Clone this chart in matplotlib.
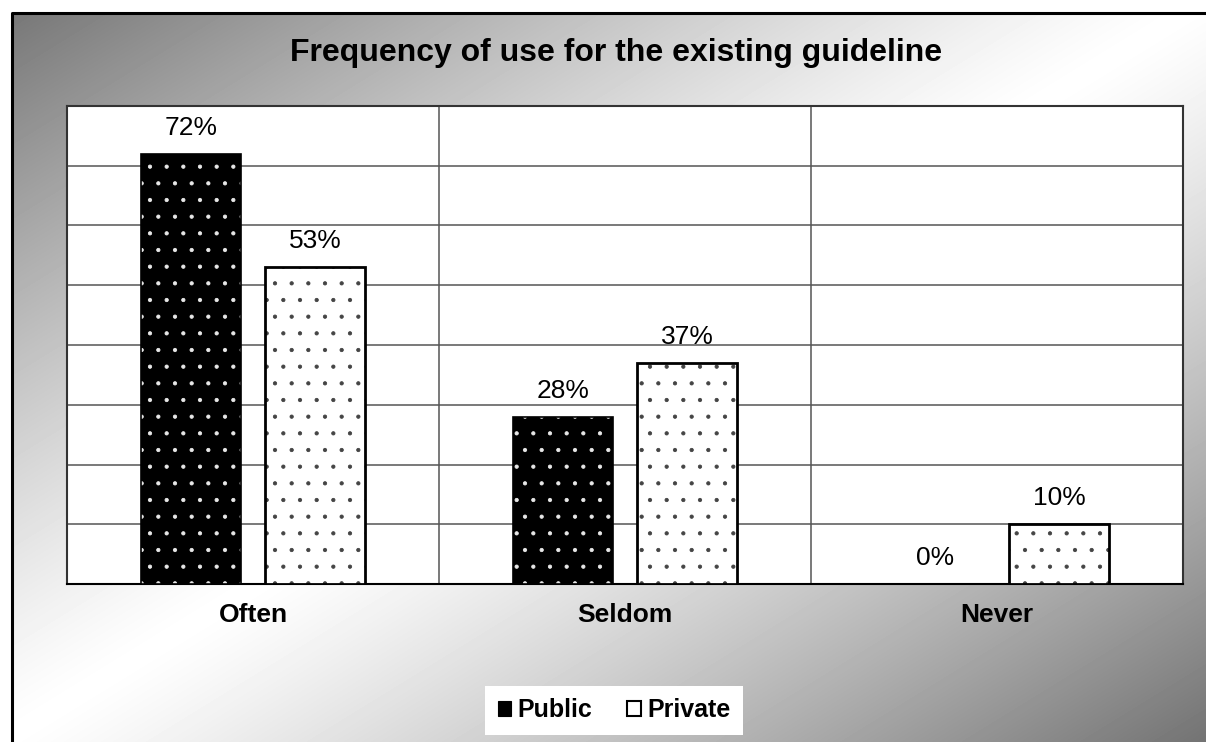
import matplotlib.pyplot as plt
import numpy as np
from matplotlib.patches import Patch

# data
categories = ['Often', 'Seldom', 'Never']
public = [72, 28, 0]
private = [53, 37, 10]
series_names = ['Public', 'Private']
title = 'Frequency of use for the existing guideline'

plt.rcParams['font.family'] = ['Liberation Sans', 'DejaVu Sans']
plt.rcParams['hatch.linewidth'] = 0.6

W, H = 1206, 742
fig = plt.figure(figsize=(W / 100, H / 100), dpi=100)

# diagonal grey-white-grey background with a frame on top/left
bg = fig.add_axes([0, 0, 1, 1], zorder=-10)
yy, xx = np.mgrid[0:H, 0:W]
s = xx / W + yy / H
shade = 1 - 0.55 * np.abs(s - 1) ** 1.2
shade[(xx < 12) | (yy < 13)] = 1
bg.imshow(shade, cmap='gray', vmin=0, vmax=1, extent=(0, W, H, 0),
          aspect='auto', interpolation='bilinear')
bg.plot([11.5, 11.5, W], [H, 13, 13], color='black', lw=2.2)
bg.set_xlim(0, W)
bg.set_ylim(H, 0)
bg.axis('off')

# plot area
ax = fig.add_axes([67 / W, 1 - 584 / H, (1183 - 67) / W, (584 - 106) / H])
ax.set_facecolor('white')

x = np.arange(len(categories))
w = 0.27
off = 0.167

ax.bar(x - off, public, w, color='black', edgecolor='#e8e8e8', hatch='.', lw=0, zorder=3)
ax.bar(x - off, public, w, facecolor='none', edgecolor='black', lw=1.2, zorder=4)
ax.bar(x + off, private, w, color='white', edgecolor='#444444', hatch='.', lw=0, zorder=3)
ax.bar(x + off, private, w, facecolor='none', edgecolor='black', lw=2, zorder=4)

for xs, vals in [(x - off, public), (x + off, private)]:
    for xi, v in zip(xs, vals):
        ax.annotate(f'{v}%', (xi, v), xytext=(0, 18.7), textcoords='offset points',
                    ha='center', va='center', fontsize=19)

ax.set_xlim(-0.5, len(categories) - 0.5)
ax.set_ylim(0, 80)
ax.set_yticks(np.arange(0, 81, 10))
ax.grid(axis='y', color='#555555', lw=1.1, zorder=0)
for xv in x[:-1] + 0.5:
    ax.axvline(xv, color='#555555', lw=1.1, zorder=0)
ax.tick_params(axis='y', left=False, labelleft=False)
ax.set_xticks(x, categories, fontweight='bold', fontsize=19)
ax.tick_params(axis='x', length=0, pad=14)
for sp in ax.spines.values():
    sp.set_color('#333333')
    sp.set_linewidth(1.5)
ax.spines['bottom'].set_color('black')

fig.text(616 / W, 1 - 53 / H, title, ha='center', va='center',
         fontsize=23, fontweight='bold')

handles = [Patch(facecolor='black', edgecolor='black', lw=0.8),
           Patch(facecolor='white', edgecolor='black', lw=1.5)]
fig.legend(handles, series_names, loc='center', bbox_to_anchor=(614 / W, 1 - 710 / H),
           ncol=2, frameon=True, fancybox=False, edgecolor='none', facecolor='white',
           framealpha=1, prop=dict(weight='bold', size=18), handlelength=0.55,
           handleheight=0.55, handletextpad=0.25, columnspacing=1.4, borderpad=0.5)

fig.savefig('out.png', dpi=100)
